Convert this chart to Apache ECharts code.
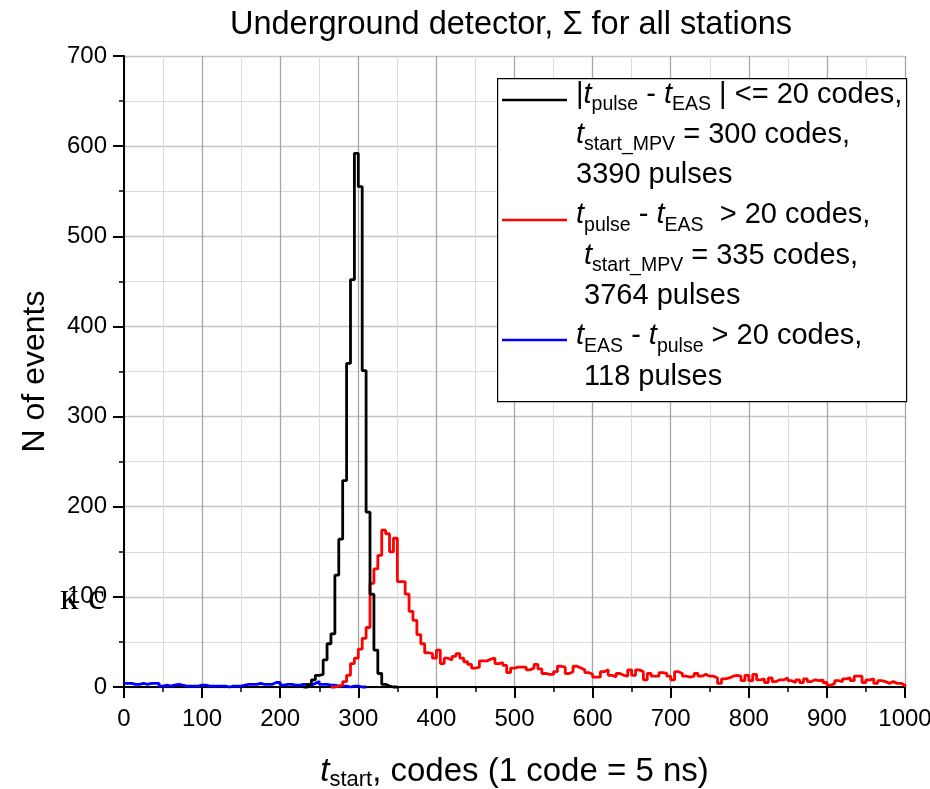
<!DOCTYPE html>
<html>
<head>
<meta charset="utf-8">
<script src="https://cdn.jsdelivr.net/npm/echarts@6/dist/echarts.min.js"></script>
<style>
html,body{margin:0;padding:0;background:#fff;}
#chart{width:930px;height:789px;}
</style>
</head>
<body>
<div id="chart"></div>
<script>
// ---- data (5-code bins, value = events in bin starting at start + i*binWidth) ----
const binWidth = 5;
const xTicks = [0, 100, 200, 300, 400, 500, 600, 700, 800, 900, 1000];
const yTicks = [0, 100, 200, 300, 400, 500, 600, 700];

const blackStart = 230;
const blackCounts = [0, 3, 8, 13, 14, 30, 48, 59, 124, 164, 229, 359, 452, 592, 555, 351, 194, 103, 41, 15, 3, 1, 0, 0];

const redStart = 265;
const redCounts = [
  0, 1, 2, 6, 13, 26, 32, 42, 54, 66,
  115, 131, 146, 174, 170, 150, 165, 117, 117, 103,
  84, 74, 58, 48, 38, 37, 32, 41, 26, 32,
  30, 34, 37, 32, 28, 25, 21, 22, 29, 29,
  31, 32, 26, 27, 24, 16, 21, 22, 22,
  22, 19, 21, 25, 20, 15, 14, 14, 17, 23,
  22, 15, 17, 23, 21, 19, 16, 14, 11, 11,
  17, 19, 13, 11, 15, 13, 12, 19, 13, 19,
  17, 8,
  15, 12, 12, 16, 15, 12, 8, 17, 15, 12,
  11, 12, 15, 12, 14, 12, 12, 10, 4, 9,
  10, 12, 13, 12, 7, 13, 7, 14, 8, 9, 5,
  10, 6, 8, 8, 10, 7, 5, 8, 5, 9,
  6, 8, 7, 8, 5, 2, 4, 7, 6, 9,
  10, 7, 12, 12, 5, 8, 9, 4, 7, 6,
  4, 6, 4, 4, 2
];

const blueStart = 0;
const blueCounts = [
  4, 4, 3, 3, 4, 3, 4, 4, 4, 1,
  2, 1, 2, 3, 2, 1, 1, 1, 1, 2,
  2, 1, 1, 1, 1, 1, 0, 1, 1, 1,
  2, 3, 3, 3, 4, 3, 3, 3, 5, 5,
  2, 3, 3, 2, 2, 3, 3, 2, 4, 6,
  3, 3, 2, 2, 1, 1, 1, 0, 1, 1,
  0, 0
];

const seriesNames = ['|t_pulse - t_EAS| <= 20 codes', 't_pulse - t_EAS > 20 codes', 't_EAS - t_pulse > 20 codes'];

function histPoints(start, counts) {
  const pts = counts.map((c, i) => [start + i * binWidth, c]);
  pts.push([start + counts.length * binWidth, 0]);
  return pts;
}

const FONT = 'Liberation Sans, Arial, sans-serif';

const legendText = [
  '{n||}{i|t}{s|pulse}{n| - }{i|t}{s|EAS}{n| | <= 20 codes,}',
  '{i|t}{s|start_MPV}{n| = 300 codes,}',
  '{n|3390 pulses}',
  '{i|t}{s|pulse}{n| - }{i|t}{s|EAS}{n|  > 20 codes,}',
  '{n| }{i|t}{s|start_MPV}{n| = 335 codes,}',
  '{n| 3764 pulses}',
  '{i|t}{s|EAS}{n| - }{i|t}{s|pulse}{n| > 20 codes,}',
  '{n| 118 pulses}'
].join('\n');

const legendRich = {
  n: { fontFamily: FONT, fontSize: 29, lineHeight: 40.3, color: '#000', verticalAlign: 'middle' },
  i: { fontFamily: FONT, fontSize: 29, fontStyle: 'italic', lineHeight: 40.3, color: '#000', verticalAlign: 'middle' },
  s: { fontFamily: FONT, fontSize: 19.5, lineHeight: 20, color: '#000', verticalAlign: 'bottom' }
};

const chart = echarts.init(document.getElementById('chart'), null, { renderer: 'canvas' });

const axisCommon = {
  axisLine: { show: true, onZero: false, lineStyle: { color: '#000', width: 2 } },
  axisTick: { show: true, inside: false, length: 11, lineStyle: { color: '#000', width: 2 } },
  minorTick: { show: true, splitNumber: 2, length: 5, lineStyle: { color: '#000', width: 1.5 } },
  minorSplitLine: { show: true, lineStyle: { color: '#dcdcdc', width: 1 } }
};

const option = {
  animation: false,
  backgroundColor: '#fff',
  title: {
    text: 'Underground detector, Σ for all stations',
    left: 511,
    top: 9,
    textAlign: 'center',
    padding: 0,
    textStyle: { fontFamily: FONT, fontSize: 32.5, fontWeight: 'normal', color: '#000' }
  },
  grid: { left: 124, right: 25, top: 56, bottom: 102, containLabel: false, outerBoundsMode: 'none' },
  xAxis: Object.assign({}, axisCommon, {
    type: 'value',
    min: xTicks[0],
    max: xTicks[xTicks.length - 1],
    interval: xTicks[1] - xTicks[0],
    splitLine: { show: true, lineStyle: { color: '#a6a6a6', width: 1.3 } },
    axisLabel: { fontFamily: FONT, fontSize: 24, color: '#000', margin: 20, formatter: v => String(v) },
    name: '{i|t}{s|start}{n|, codes (1 code = 5 ns)}',
    nameLocation: 'middle',
    nameGap: 66,
    nameTextStyle: {
      rich: {
        n: { fontFamily: FONT, fontSize: 33, lineHeight: 38, color: '#000', verticalAlign: 'middle' },
        i: { fontFamily: FONT, fontSize: 33, fontStyle: 'italic', lineHeight: 38, color: '#000', verticalAlign: 'middle' },
        s: { fontFamily: FONT, fontSize: 22, lineHeight: 17, color: '#000', verticalAlign: 'bottom' }
      }
    }
  }),
  yAxis: Object.assign({}, axisCommon, {
    type: 'value',
    min: yTicks[0],
    max: yTicks[yTicks.length - 1],
    interval: yTicks[1] - yTicks[0],
    splitLine: { show: true, lineStyle: { color: '#c4c4c4', width: 1.3 } },
    axisLabel: { fontFamily: FONT, fontSize: 24, color: '#000', margin: 17, formatter: v => String(v) },
    name: 'N of events',
    nameLocation: 'middle',
    nameGap: 73,
    nameTextStyle: { fontFamily: FONT, fontSize: 32, color: '#000' }
  }),
  series: [
    {
      name: seriesNames[2], type: 'line', step: 'end', symbol: 'none', clip: false,
      data: histPoints(blueStart, blueCounts),
      lineStyle: { color: '#0000ff', width: 2.8 }, z: 3
    },
    {
      name: seriesNames[1], type: 'line', step: 'end', symbol: 'none', clip: false,
      data: histPoints(redStart, redCounts),
      lineStyle: { color: '#ff0000', width: 2.8 }, z: 4
    },
    {
      name: seriesNames[0], type: 'line', step: 'end', symbol: 'none', clip: false,
      data: histPoints(blackStart, blackCounts),
      lineStyle: { color: '#000000', width: 2.8 }, z: 5
    }
  ],
  graphic: [
    {
      type: 'rect', left: 497, top: 78, z: 100,
      shape: { width: 409, height: 323 },
      style: { fill: '#fff', stroke: '#000', lineWidth: 1.2 }
    },
    { type: 'line', z: 101, shape: { x1: 502, y1: 100, x2: 567, y2: 100 }, style: { stroke: '#000', lineWidth: 2.5 } },
    { type: 'line', z: 101, shape: { x1: 502, y1: 220, x2: 567, y2: 220 }, style: { stroke: '#ff0000', lineWidth: 2.5 } },
    { type: 'line', z: 101, shape: { x1: 502, y1: 340, x2: 567, y2: 340 }, style: { stroke: '#0000ff', lineWidth: 2.5 } },
    {
      type: 'text', left: 576, top: 80, z: 102,
      style: { text: legendText, rich: legendRich, fill: '#000', font: '29px ' + FONT }
    },
    {
      type: 'text', left: 60, top: 580, z: 102,
      style: { text: 'к с', fill: '#000', font: '38px "Liberation Serif", "DejaVu Serif", serif' }
    }
  ]
};

chart.setOption(option);
</script>
</body>
</html>
